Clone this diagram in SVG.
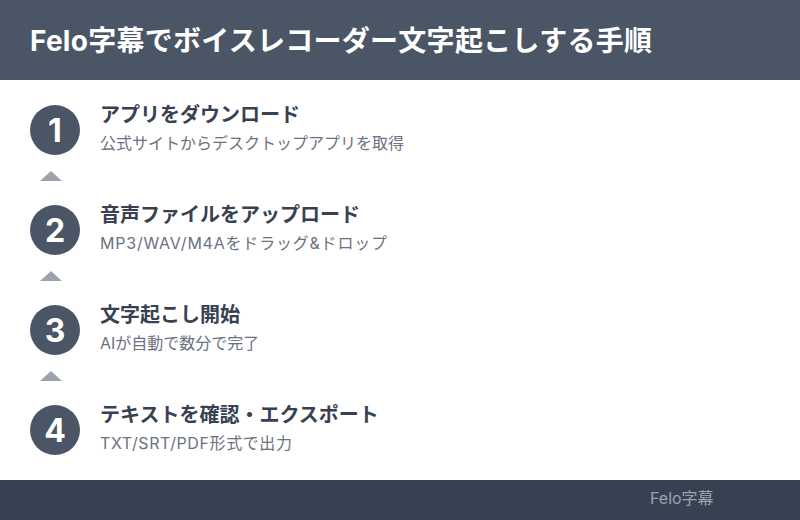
<svg xmlns="http://www.w3.org/2000/svg" width="800" height="520" viewBox="0 0 800 520">
<style>
.ff{font-family:Inter,"Noto Sans CJK JP",sans-serif}
.num{fill:#4a5565}
.n{fill:#fff;font-size:32px;font-weight:bold;text-anchor:middle}
.t{fill:#374151;font-size:20px;font-weight:bold}
.s{fill:#6b7280;font-size:16px}
.arr{fill:#9ca3af}
</style>
<rect x="0" y="0" width="800" height="520" fill="#fff"/>
<g id="header">
<rect x="0" y="0" width="800" height="80" fill="#4a5565"/>
<text class="ff" x="30" y="51" font-size="28" font-weight="bold" fill="#fff" textLength="622" lengthAdjust="spacing">Felo字幕でボイスレコーダー文字起こしする手順</text>
</g>
<g id="connectors">
<polygon class="arr" points="40,181 51,171 62,181"/>
<polygon class="arr" points="40,281 51,271 62,281"/>
<polygon class="arr" points="40,381 51,371 62,381"/>
</g>
<g id="step1">
<circle class="num" cx="55" cy="130" r="25"/>
<text class="ff n" x="55" y="142">1</text>
<text class="ff t" x="100" y="122">アプリをダウンロード</text>
<text class="ff s" x="100" y="149">公式サイトからデスクトップアプリを取得</text>
</g>
<g id="step2">
<circle class="num" cx="55" cy="230" r="25"/>
<text class="ff n" x="55" y="242">2</text>
<text class="ff t" x="100" y="222">音声ファイルをアップロード</text>
<text class="ff s" x="100" y="249" textLength="287" lengthAdjust="spacing">MP3/WAV/M4Aをドラッグ&amp;ドロップ</text>
</g>
<g id="step3">
<circle class="num" cx="55" cy="330" r="25"/>
<text class="ff n" x="55" y="342">3</text>
<text class="ff t" x="100" y="322">文字起こし開始</text>
<text class="ff s" x="100" y="349">AIが自動で数分で完了</text>
</g>
<g id="step4">
<circle class="num" cx="55" cy="430" r="25"/>
<text class="ff n" x="55" y="442">4</text>
<text class="ff t" x="100" y="422">テキストを確認・エクスポート</text>
<text class="ff s" x="100" y="449" textLength="192" lengthAdjust="spacing">TXT/SRT/PDF形式で出力</text>
</g>
<g id="footer">
<rect x="0" y="480" width="800" height="40" fill="#374151"/>
<text class="ff" x="650" y="504" font-size="16" fill="#9ca3af">Felo字幕</text>
</g>
</svg>
